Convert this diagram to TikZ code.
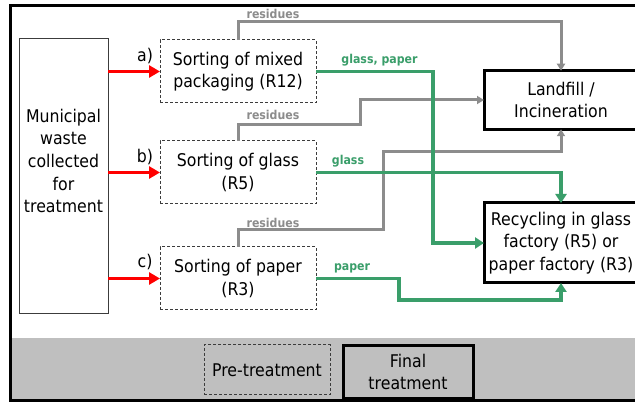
\documentclass[tikz,border=0pt]{standalone}
\usepackage{fontspec}
\setmainfont{DejaVu Sans}[FakeStretch=0.9]
\usetikzlibrary{arrows.meta}
\definecolor{gline}{HTML}{8C8C8C}
\definecolor{grn}{HTML}{3A9E6A}
\definecolor{band}{HTML}{BFBFBF}
\definecolor{dk}{HTML}{3C3C3C}
\begin{document}
\begin{tikzpicture}[x=1pt,y=-1pt,
  txt/.style={font=\fontsize{17.5}{22.6}\selectfont, align=center, inner sep=0pt},
  lbl/.style={font=\fontsize{17.5}{22.6}\selectfont, inner sep=0pt, anchor=base},
  prebox/.style={draw=dk, dash pattern=on 3pt off 2pt, line width=1pt, inner sep=0pt, outer sep=0pt, txt},
  finbox/.style={draw=black, line width=3pt, inner sep=0pt, outer sep=0pt, txt},
  wastebox/.style={draw=dk, line width=1pt, inner sep=0pt, outer sep=0pt},
  redarr/.style={draw=red, line width=3.5pt, -{Triangle[length=11pt,width=12pt]}},
  resarr/.style={draw=gline, line width=3pt, -{Triangle[length=7pt,width=8pt]}},
  grnarr/.style={draw=grn, line width=3.2pt, -{Triangle[length=9pt,width=11pt]}},
  reslbl/.style={font=\fontsize{12.2}{14}\selectfont\bfseries, text=gline, inner sep=0pt, anchor=base},
  grnlbl/.style={font=\fontsize{12.2}{14}\selectfont\bfseries, text=grn, inner sep=0pt, anchor=base}]
\useasboundingbox (0,0) rectangle (635,403);
\fill[white] (0,0) rectangle (635,403);
\fill[band] (10,338) rectangle (650,402);
\draw[line width=3.3pt] (10.7,5.7) rectangle (650,400.5);

% municipal waste
\node[wastebox, minimum width=89pt, minimum height=275pt] (mw) at (63.5,176.5) {};
\node[txt] (mwt) at (63.5,161) {Municipal\\waste\\collected\\for\\treatment};

% sorting boxes
\node[prebox, minimum width=156pt, minimum height=63pt] (sa) at (238,71.5) {Sorting of mixed\\packaging (R12)};
\node[prebox, minimum width=156pt, minimum height=63pt] (sb) at (238,172.5) {Sorting of glass\\(R5)};
\node[prebox, minimum width=156pt, minimum height=63pt] (sc) at (238,278.5) {Sorting of paper\\(R3)};

\node[lbl] (la) at (145,62) {a)};
\node[lbl] (lb) at (145,163) {b)};
\node[lbl] (lc) at (145,268) {c)};

% final boxes
\node[finbox, minimum width=154pt, minimum height=58.5pt] (lf) at (561,100) {Landfill /\\Incineration};
\node[finbox, minimum width=154pt, minimum height=80pt] (rc) at (561,243) {Recycling in glass\\factory (R5) or\\paper factory (R3)};

% red arrows
\draw[redarr] (mw.east |- sa.west) -- (sa.west);
\draw[redarr] (mw.east |- sb.west) -- (sb.west);
\draw[redarr] (mw.east |- sc.west) -- (sc.west);

% residues
\draw[resarr] (sa.north) -- ++(0,-18) -| (lf.north);
\draw[resarr] (sb.north) -- ++(0,-16) -- (360,125) |- (lf.west);
\draw[resarr] (sc.north) -- ++(0,-17) -| (383,152) -| (lf.south);
\node[reslbl] (ra) at (273,19) {residues};
\node[reslbl] (rb) at (273,120) {residues};
\node[reslbl] (rcl) at (273,228) {residues};

% green flows
\draw[grnarr] (sa.east) -- (433,71.5) |- (rc.west);
\draw[grnarr] (sb.east) -| (rc.north);
\draw[grnarr] (sc.east) -- (399,278.5) |- (rc.south |- 0,300) -- (rc.south);
\node[grnlbl] (ga) at (379.5,64) {glass, paper};
\node[grnlbl] (gb) at (348,165) {glass};
\node[grnlbl] (gc) at (352,271) {paper};

% legend
\node[prebox, minimum width=126pt, minimum height=50pt] (lp) at (267,370) {Pre-treatment};
\node[finbox, minimum width=130pt, minimum height=52.5pt] (lfin) at (408,372) {Final\\treatment};
\end{tikzpicture}
\end{document}
